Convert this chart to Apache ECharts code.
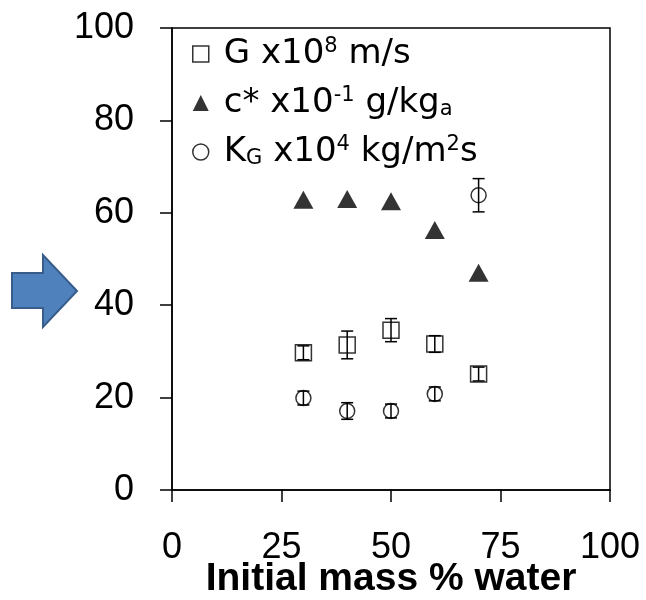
<!DOCTYPE html>
<html>
<head>
<meta charset="utf-8">
<script src="https://cdn.jsdelivr.net/npm/echarts@6/dist/echarts.min.js"></script>
<style>
html,body{margin:0;padding:0;background:#fff;}
#chart{width:646px;height:600px;}
</style>
</head>
<body>
<div id="chart"></div>
<script>
// x: initial mass % water
var water = [30, 40, 50, 60, 70];
// G x10^8 m/s (open squares) with error
var gVals = [29.7, 31.4, 34.6, 31.6, 25.1];
var gErr = [1.5, 3.0, 2.5, 1.8, 1.5];
// c* x10^-1 g/kg_a (filled triangles)
var cVals = [62.8, 63.0, 62.5, 56.3, 47.0];
// K_G x10^4 kg/m2s (open circles) with error
var kVals = [19.9, 17.1, 17.1, 20.8, 63.8];
var kErr = [1.5, 1.8, 1.5, 1.5, 3.6];

var xTicks = [0, 25, 50, 75, 100];
var yTicks = [0, 20, 40, 60, 80, 100];

var legendText = {
	'G': 'G x10{sup|8} m/s',
	'c': 'c* x10{sup|-1} g/kg{sub|a}',
	'K': 'K{sub|G} x10{sup|4} kg/m{sup|2}s'
};

var FONT = '"Liberation Sans", Arial, sans-serif';
var LEGEND_FONT = '"DejaVu Sans", "Liberation Sans", sans-serif';

function pairs(xs, ys)
{
	var out = [];
	for(var i=0;i<xs.length;i++)
	{
		out.push([xs[i], ys[i]]);
	}
	return out;
}
function errPairs(xs, ys, es)
{
	var out = [];
	for(var i=0;i<xs.length;i++)
	{
		out.push([xs[i], ys[i] - es[i], ys[i] + es[i]]);
	}
	return out;
}
//误差线
function renderErr(params, api)
{
	var x = api.value(0);
	var lo = api.coord([x, api.value(1)]);
	var hi = api.coord([x, api.value(2)]);
	var half = 6;
	var st = {stroke: '#000', lineWidth: 1.5};
	return {
		type: 'group',
		children: [
			{type: 'line', shape: {x1: lo[0], y1: lo[1], x2: hi[0], y2: hi[1]}, style: st},
			{type: 'line', shape: {x1: lo[0]-half, y1: lo[1], x2: lo[0]+half, y2: lo[1]}, style: st},
			{type: 'line', shape: {x1: hi[0]-half, y1: hi[1], x2: hi[0]+half, y2: hi[1]}, style: st}
		]
	};
}

var myChart = echarts.init(document.getElementById('chart'), null, {renderer: 'canvas'});
var option = {
	backgroundColor: '#fff',
	animation: false,
	textStyle: {fontFamily: FONT},
	grid: {left: 172, right: 36, top: 28, bottom: 110, outerBoundsMode: 'none', containLabel: false,
		show: true, borderColor: '#000', borderWidth: 1.5, backgroundColor: 'transparent'},
	legend: {
		orient: 'vertical',
		left: 187,
		top: 30,
		itemWidth: 16,
		itemHeight: 16,
		itemGap: 11,
		selectedMode: false,
		formatter: function(name){ return legendText[name]; },
		textStyle: {
			fontSize: 34,
			color: '#000',
			fontFamily: LEGEND_FONT,
			padding: [0, 0, 0, 10],
			lineHeight: 38,
			rich: {
				sup: {fontSize: 21, color: '#000', fontFamily: LEGEND_FONT, padding: [0, 0, 15, 0]},
				sub: {fontSize: 21, color: '#000', fontFamily: LEGEND_FONT, padding: [14, 0, 0, 0]}
			}
		},
		data: [
			{name: 'G', icon: 'rect', itemStyle: {color: 'transparent', borderColor: '#000', borderWidth: 1.5}},
			{name: 'c', icon: 'triangle', itemStyle: {color: '#000', borderWidth: 0}},
			{name: 'K', icon: 'circle', itemStyle: {color: 'transparent', borderColor: '#000', borderWidth: 1.5}}
		]
	},
	xAxis: {
		type: 'value',
		min: xTicks[0],
		max: xTicks[xTicks.length-1],
		interval: 25,
		name: 'Initial mass % water',
		nameLocation: 'middle',
		nameGap: 70,
		nameMoveOverlap: false,
		nameTextStyle: {fontSize: 39, fontWeight: 'bold', color: '#000', fontFamily: FONT},
		axisLine: {show: true, onZero: false, lineStyle: {color: '#000', width: 1.5}},
		axisTick: {show: true, inside: false, length: 12, lineStyle: {color: '#000', width: 1.5}},
		axisLabel: {fontSize: 36, color: '#000', margin: 40, fontFamily: FONT},
		splitLine: {show: false}
	},
	yAxis: {
		type: 'value',
		min: yTicks[0],
		max: yTicks[yTicks.length-1],
		interval: 20,
		axisLine: {show: true, onZero: false, lineStyle: {color: '#000', width: 1.5}},
		axisTick: {show: true, inside: false, length: 12, lineStyle: {color: '#000', width: 1.5}},
		axisLabel: {fontSize: 36, color: '#000', margin: 38, fontFamily: FONT},
		splitLine: {show: false}
	},
	graphic: [{
		type: 'polygon',
		shape: {points: [[12,273],[43,273],[43,255],[77,291],[43,327],[43,308],[12,308]]},
		style: {fill: '#4f81bd', stroke: '#385d8a', lineWidth: 2}
	}],
	series: [
		{
			name: 'G',
			type: 'scatter',
			symbol: 'rect',
			symbolSize: 16,
			itemStyle: {color: 'transparent', borderColor: '#000', borderWidth: 1.5},
			data: pairs(water, gVals),
			z: 3
		},
		{
			name: 'c',
			type: 'scatter',
			symbol: 'triangle',
			symbolSize: [20, 18],
			itemStyle: {color: '#000'},
			data: pairs(water, cVals),
			z: 3
		},
		{
			name: 'K',
			type: 'scatter',
			symbol: 'circle',
			symbolSize: 15,
			itemStyle: {color: 'transparent', borderColor: '#000', borderWidth: 1.5},
			data: pairs(water, kVals),
			z: 3
		},
		{
			name: 'gErr',
			type: 'custom',
			renderItem: renderErr,
			data: errPairs(water, gVals, gErr),
			encode: {x: 0, y: [1, 2]},
			z: 4
		},
		{
			name: 'kErr',
			type: 'custom',
			renderItem: renderErr,
			data: errPairs(water, kVals, kErr),
			encode: {x: 0, y: [1, 2]},
			z: 4
		}
	]
};
myChart.setOption(option);
</script>
</body>
</html>
